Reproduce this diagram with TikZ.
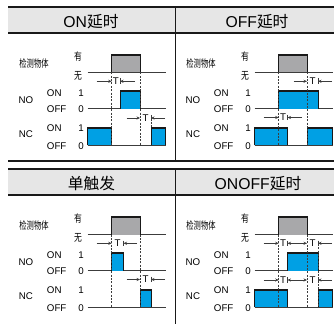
\documentclass[tikz,border=0pt]{standalone}
\usepackage{fontspec}
\setmainfont{Liberation Sans}
\newfontfamily\cjk{Noto Sans CJK SC}
\usepackage{graphicx}
\usetikzlibrary{arrows.meta}
\definecolor{hdrgray}{RGB}{230,230,230}
\definecolor{objgray}{RGB}{168,168,170}
\definecolor{sigblue}{RGB}{0,160,228}
\definecolor{ink}{RGB}{25,25,25}
\definecolor{lineclr}{RGB}{60,60,60}
\tikzset{
  rule/.style={line width=1.5pt, draw=ink},
  divider/.style={line width=0.75pt, draw=ink},
  base/.style={line width=0.6pt, draw=lineclr},
  guide/.style={line width=0.45pt, draw=lineclr, dash pattern=on 1.5pt off 1pt},
  tickmark/.style={line width=0.45pt, draw=lineclr},
  dimarrow/.style={line width=0.45pt, draw=lineclr, -{Stealth[length=2.6pt,width=2.3pt]}},
  lbl/.style={inner sep=0pt, font=\fontsize{7.3}{8}\selectfont},
  hdr/.style={inner sep=0pt, font=\fontsize{11.8}{14}\selectfont},
  clbl/.style={inner sep=0pt, font=\fontsize{7.8}{9}\selectfont},
}
% pulse: fill colour, x1, x2, ytop, ybottom
\newcommand\pulsebox[5]{%
  \fill[#1] (#2,#4) rectangle (#3,#5);
  \draw[line width=0.4pt, ink] (#2,#5) -- (#2,#4) -- (#3,#4) -- (#3,#5);
  \draw[line width=1.4pt, ink] (#2,#4+0.9) -- (#3,#4+0.9);}
% T dimension: name, y, xstart, xedge, xtick, xend
\newcommand\dimT[6]{%
  \draw[dimarrow] (#3,#2) -- (#4,#2);
  \node[lbl] (#1) at ({(#4+#5)/2},#2) {T};
  \draw[tickmark] (#5,#2-2.8) -- (#5,#2+2.8);
  \draw[dimarrow] (#6,#2) -- (#5,#2);}
% labels and baselines of a panel
\newcommand\panelframe[1]{%
  \node[clbl] (#1obj) at (34,64) {\scalebox{0.7}[1]{\cjk 检测物体}};
  \node[clbl] (#1you) at (78,57) {\scalebox{0.75}[1]{\cjk 有}};
  \node[clbl] (#1wu) at (78,75.5) {\scalebox{0.75}[1]{\cjk 无}};
  \node[lbl] (#1no) at (26,100) {NO};
  \node[lbl, anchor=west] (#1noon) at (46.7,93) {ON};
  \node[lbl] (#1noone) at (81,93) {1};
  \node[lbl, anchor=west] (#1nooff) at (46.7,109.3) {OFF};
  \node[lbl] (#1nozero) at (81,109.3) {0};
  \node[lbl] (#1nc) at (26,134) {NC};
  \node[lbl, anchor=west] (#1ncon) at (46.7,128) {ON};
  \node[lbl] (#1ncone) at (81,128) {1};
  \node[lbl, anchor=west] (#1ncoff) at (46.7,145.7) {OFF};
  \node[lbl] (#1nczero) at (81,145.7) {0};
  \draw[base] (87.7,72.5) -- (165.5,72.5);
  \draw[base] (87.7,108.5) -- (165.5,108.5);
  \draw[base] (87.7,145.3) -- (165.5,145.3);
  \pulsebox{objgray}{111.7}{140}{54.5}{72.5}}
\begin{document}
\begin{tikzpicture}[x=0.75pt,y=-0.75pt]
\useasboundingbox (0,0) rectangle (334,324);
% ---- tables ----
\fill[hdrgray] (8,7.3) rectangle (334,33.3);
\fill[hdrgray] (8,169.3) rectangle (334,195.3);
\draw[rule] (8,7.3) -- (334,7.3);
\draw[rule] (8,33.3) -- (334,33.3);
\draw[rule] (8,160.7) -- (334,160.7);
\draw[rule] (8,169.3) -- (334,169.3);
\draw[rule] (8,195.3) -- (334,195.3);
\draw[divider] (175.3,7.3) -- (175.3,160.7);
\draw[divider] (175.3,169.3) -- (175.3,324);
\node[hdr] (h1) at (91,22) {ON{\cjk 延时}};
\node[hdr] (h2) at (257,22) {OFF{\cjk 延时}};
\node[hdr] (h3) at (91.5,184) {{\cjk 单触发}};
\node[hdr] (h4) at (258,184) {ONOFF{\cjk 延时}};
% ---- panel 1: ON delay ----
\begin{scope}
  \panelframe{a}
  \pulsebox{sigblue}{120}{140}{90.5}{108.5}
  \pulsebox{sigblue}{87.7}{111.7}{126.8}{145.3}
  \pulsebox{sigblue}{151}{165.5}{126.8}{145.3}
  \draw[guide] (111.7,72.5) -- (111.7,145.3);
  \draw[guide] (140,72.5) -- (140,145.3);
  \draw[guide] (151,115) -- (151,126.8);
  \dimT{aT1}{81.3}{96.7}{111.7}{120}{135}
  \dimT{aT2}{118}{126.7}{140}{151}{165}
\end{scope}
% ---- panel 2: OFF delay ----
\begin{scope}[shift={(167,0)}]
  \panelframe{b}
  \pulsebox{sigblue}{111.7}{151}{90.5}{108.5}
  \pulsebox{sigblue}{87.7}{120.5}{126.8}{145.3}
  \pulsebox{sigblue}{140}{165.5}{126.8}{145.3}
  \draw[guide] (111.7,72.5) -- (111.7,145.3);
  \draw[guide] (140,72.5) -- (140,145.3);
  \dimT{bT1}{81.3}{126.7}{140}{151}{165}
  \dimT{bT2}{117.5}{96.7}{111.7}{120.5}{135}
\end{scope}
% ---- panel 3: one shot ----
\begin{scope}[shift={(0,162)}]
  \panelframe{c}
  \pulsebox{sigblue}{111.7}{123.5}{90.5}{108.5}
  \pulsebox{sigblue}{140}{151}{126.8}{145.3}
  \draw[guide] (111.7,72.5) -- (111.7,145.3);
  \draw[guide] (140,72.5) -- (140,145.3);
  \dimT{cT1}{81.3}{96.7}{111.7}{123.5}{137}
  \dimT{cT2}{117.5}{126.7}{140}{151}{165}
\end{scope}
% ---- panel 4: ON/OFF delay ----
\begin{scope}[shift={(167,162)}]
  \panelframe{d}
  \pulsebox{sigblue}{120.5}{151}{90.5}{108.5}
  \pulsebox{sigblue}{87.7}{120.5}{126.8}{145.3}
  \pulsebox{sigblue}{151}{165.5}{126.8}{145.3}
  \draw[guide] (111.7,72.5) -- (111.7,145.3);
  \draw[guide] (140,72.5) -- (140,145.3);
  \draw[guide] (151,78.5) -- (151,145.3);
  \dimT{dT1}{81.3}{96.7}{111.7}{120.5}{130.3}
  \dimT{dT2}{81.3}{130.3}{140}{151}{165}
  \dimT{dT3}{118}{96.7}{111.7}{120.5}{130.3}
  \dimT{dT4}{118}{130.3}{140}{151}{165}
\end{scope}
\end{tikzpicture}
\end{document}
